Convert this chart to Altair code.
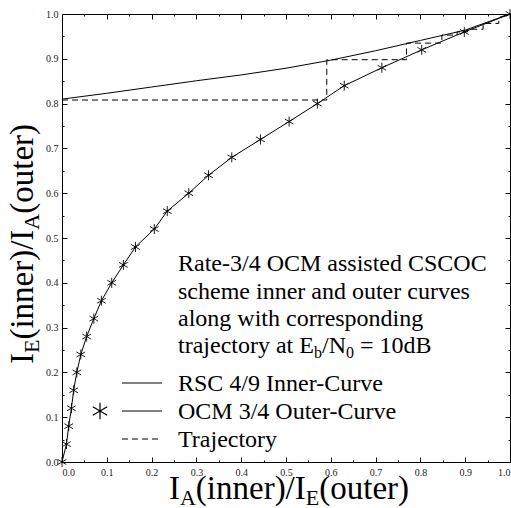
import altair as alt
import pandas as pd

# ---------------- data ----------------
outer_y = [0.00, 0.04, 0.08, 0.12, 0.16, 0.20, 0.24, 0.28, 0.32, 0.36, 0.40, 0.44, 0.48,
           0.52, 0.56, 0.60, 0.64, 0.68, 0.72, 0.76, 0.80, 0.84, 0.88, 0.92, 0.96, 1.00]
outer_x = [0.000, 0.010, 0.015, 0.021, 0.026, 0.033, 0.042, 0.055, 0.071, 0.088, 0.111, 0.137, 0.164,
           0.206, 0.235, 0.283, 0.327, 0.379, 0.443, 0.507, 0.570, 0.630, 0.714, 0.803, 0.898, 1.000]

inner_x = [0.0, 0.1, 0.2, 0.3, 0.4, 0.5, 0.6, 0.7, 0.8, 0.9, 1.0]
inner_y = [0.810, 0.823, 0.837, 0.851, 0.864, 0.879, 0.897, 0.918, 0.941, 0.964, 1.000]

traj_x = [0.000, 0.591, 0.591, 0.769, 0.769, 0.848, 0.848, 0.882, 0.882, 0.905, 0.905, 0.940, 0.940, 0.975, 0.975, 1.0]
traj_y = [0.808, 0.808, 0.898, 0.898, 0.935, 0.935, 0.953, 0.953, 0.960, 0.960, 0.966, 0.966, 0.979, 0.979, 0.992, 1.0]

major_ticks = [0.0, 0.1, 0.2, 0.3, 0.4, 0.5, 0.6, 0.7, 0.8, 0.9, 1.0]
minor_ticks = [0.05, 0.15, 0.25, 0.35, 0.45, 0.55, 0.65, 0.75, 0.85, 0.95]

info_lines = ["Rate-3/4 OCM assisted CSCOC",
              "scheme inner and outer curves",
              "along with corresponding"]
info_last = [("trajectory at E", False), ("b", True), ("/N", False), ("0", True), (" = 10dB", False)]
legend_labels = ["RSC 4/9 Inner-Curve", "OCM 3/4 Outer-Curve", "Trajectory"]
x_title = [("I", False), ("A", True), ("(inner)/I", False), ("E", True), ("(outer)", False)]
y_title = [("I", False), ("E", True), ("(inner)/I", False), ("A", True), ("(outer)", False)]

# ---------------- layout ----------------
W = H = 448
L, T = 62, 14
SERIF = "Liberation Serif"
ASTER = "M0,-1L0,1M-0.866,-0.5L0.866,0.5M-0.866,0.5L0.866,-0.5"

TIMES = {' ': 250, '(': 333, ')': 333, '/': 278, '-': 333, '=': 564, '.': 250,
         'A': 722, 'B': 667, 'C': 667, 'D': 722, 'E': 611, 'I': 333, 'M': 889, 'N': 722,
         'O': 722, 'R': 667, 'S': 556, 'T': 611, 'a': 444, 'b': 500, 'c': 444, 'd': 500,
         'e': 444, 'g': 500, 'h': 500, 'i': 278, 'j': 278, 'l': 278, 'm': 778, 'n': 500,
         'o': 500, 'p': 500, 'r': 333, 's': 389, 't': 278, 'u': 500, 'v': 500, 'w': 722, 'y': 500}


def tw(s, size):
    return sum(TIMES.get(c, 500) for c in s) * size / 1000.0


ONE = alt.Data(values=[{}])


def txt(s, x, y, size, angle=0):
    return alt.Chart(ONE).mark_text(text=s, font=SERIF, fontSize=size, align="left",
                                    baseline="alphabetic", angle=angle, color="black").encode(
        x=alt.value(x - L), y=alt.value(y - T))


def rich(pieces, x0, y0, size, subsize, shift, vertical=False):
    out, pos = [], 0.0
    for s, sub in pieces:
        fs = subsize if sub else size
        lead = len(s) - len(s.lstrip(" "))
        pos += tw(" " * lead, fs)
        s2 = s.lstrip(" ")
        if vertical:
            out.append(txt(s2, x0 + (shift if sub else 0), y0 - pos, fs, angle=270))
        else:
            out.append(txt(s2, x0 + pos, y0 + (shift if sub else 0), fs))
        pos += tw(s2, fs)
    return out, pos


xs = alt.Scale(domain=[0, 1], nice=False, zero=False)
ys = alt.Scale(domain=[0, 1], nice=False, zero=False)

df_outer = pd.DataFrame({"x": outer_x, "y": outer_y, "i": range(len(outer_x))})
df_inner = pd.DataFrame({"x": inner_x, "y": inner_y, "i": range(len(inner_x))})
df_traj = pd.DataFrame({"x": traj_x, "y": traj_y, "i": range(len(traj_x))})

lab_axis = dict(values=major_ticks, format=".1f", labels=True, ticks=False, domain=False,
                grid=False, title=None, labelFont=SERIF, labelFontSize=10, labelColor="#222")
main = alt.Chart(df_inner).mark_line(color="black", strokeWidth=1).encode(
    x=alt.X("x:Q", scale=xs, axis=alt.Axis(orient="bottom", labelPadding=5, **lab_axis)),
    y=alt.Y("y:Q", scale=ys, axis=alt.Axis(orient="left", labelPadding=4, **lab_axis)),
    order="i:O")

outer_line = alt.Chart(df_outer).mark_line(color="black", strokeWidth=1).encode(
    x=alt.X("x:Q", scale=xs, axis=None), y=alt.Y("y:Q", scale=ys, axis=None), order="i:O")
outer_pts = alt.Chart(df_outer).mark_point(shape=ASTER, size=100, filled=False, color="black",
                                           strokeWidth=0.9, opacity=1).encode(
    x=alt.X("x:Q", scale=xs, axis=None), y=alt.Y("y:Q", scale=ys, axis=None))
traj = alt.Chart(df_traj).mark_line(color="black", strokeWidth=1, strokeDash=[6, 4]).encode(
    x=alt.X("x:Q", scale=xs, axis=None), y=alt.Y("y:Q", scale=ys, axis=None), order="i:O")


def tick_layer(xorient, yorient, vals, size):
    ax = dict(values=vals, labels=False, domain=False, ticks=True, tickSize=size, tickColor="black",
              tickWidth=1, grid=False, title=None, offset=-W)
    return alt.Chart(df_inner).mark_point(opacity=0).encode(
        x=alt.X("x:Q", scale=xs, axis=alt.Axis(orient=xorient, **ax)),
        y=alt.Y("y:Q", scale=ys, axis=alt.Axis(orient=yorient, **ax)))


ticks = [tick_layer("top", "right", major_ticks, 5), tick_layer("bottom", "left", major_ticks, 5),
         tick_layer("top", "right", minor_ticks, 2), tick_layer("bottom", "left", minor_ticks, 2)]

# text block
FS = 24
ann = []
base = [271, 299, 326]
for s, b in zip(info_lines, base):
    ann.append(txt(s, 178, b, FS))
pieces, _ = rich(info_last, 178, 353, FS, 16, 5)
ann += pieces

# legend
leg_y = [391, 419, 447]
for s, b in zip(legend_labels, leg_y):
    ann.append(txt(s, 178, b, FS))
ONE_RULE = alt.Chart(ONE)
ann.append(ONE_RULE.mark_rule(color="black", strokeWidth=1).encode(
    x=alt.value(122 - L), x2=alt.value(162 - L), y=alt.value(leg_y[0] - 8 - T)))
ann.append(ONE_RULE.mark_rule(color="black", strokeWidth=1).encode(
    x=alt.value(122 - L), x2=alt.value(162 - L), y=alt.value(leg_y[1] - 8 - T)))
ann.append(ONE_RULE.mark_rule(color="black", strokeWidth=1, strokeDash=[6, 4]).encode(
    x=alt.value(122 - L), x2=alt.value(162 - L), y=alt.value(leg_y[2] - 8 - T)))
ann.append(alt.Chart(ONE).mark_point(shape=ASTER, size=280, filled=False, color="black",
                                     strokeWidth=1.2, opacity=1).encode(
    x=alt.value(100 - L), y=alt.value(leg_y[1] - 8 - T)))

# axis titles with subscripts
TF, TS = 33, 22
_, wx = rich(x_title, 0, 0, TF, TS, 6)
xt, _ = rich(x_title, L + W / 2 - wx / 2 + 3, 499, TF, TS, 6)
_, wy = rich(y_title, 0, 0, TF, TS, 6, vertical=True)
yt, _ = rich(y_title, 33, T + H / 2 + wy / 2 + 6, TF, TS, 6, vertical=True)

chart = alt.layer(main, outer_line, traj, outer_pts, *ticks, *ann, *xt, *yt).resolve_axis(
    x="independent", y="independent"
).properties(
    width=W, height=H,
    autosize=alt.AutoSizeParams(type="none"),
    padding={"left": L, "top": T, "right": 511 - L - W, "bottom": 508 - T - H},
    background="white",
).configure_view(stroke="black", strokeWidth=1)

chart.save("out.html", embed_options={"renderer": "svg", "actions": False})
